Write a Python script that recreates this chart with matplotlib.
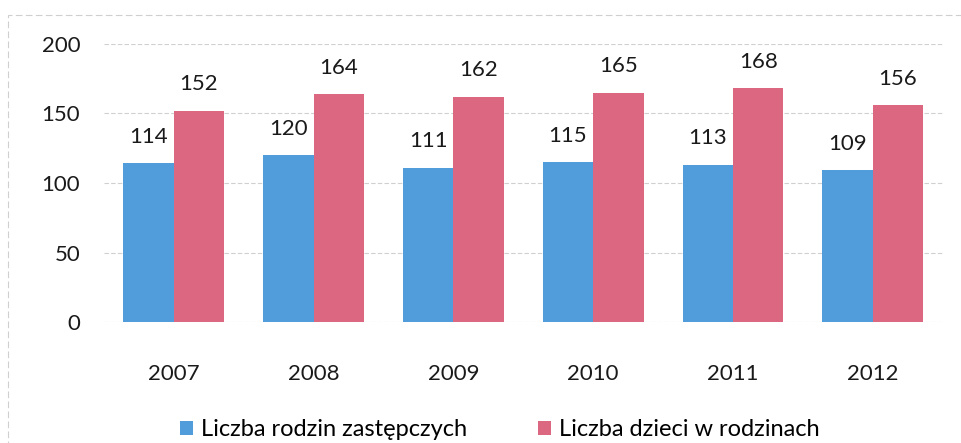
import numpy as np
import matplotlib
matplotlib.use("Agg")
import matplotlib.pyplot as plt
from matplotlib.patches import Rectangle

years = ["2007", "2008", "2009", "2010", "2011", "2012"]
rodziny = [114, 120, 111, 115, 113, 109]
dzieci = [152, 164, 162, 165, 168, 156]
label_rodziny = "Liczba rodzin zastępczych"
label_dzieci = "Liczba dzieci w rodzinach"

blue = "#519ddc"
pink = "#db6780"

plt.rcParams['font.family'] = ['Lato', 'DejaVu Sans']

fig = plt.figure(figsize=(9.61, 4.43), dpi=100)
ax = fig.add_axes([0.108, 0.273, 0.873, 0.628])

x = np.arange(len(years))
w = 0.36
b1 = ax.bar(x - w / 2, rodziny, w, color=blue, label=label_rodziny)
b2 = ax.bar(x + w / 2, dzieci, w, color=pink, label=label_dzieci)

for bars, vals in ((b1, rodziny), (b2, dzieci)):
    for bar, v in zip(bars, vals):
        ax.annotate(str(v), (bar.get_x() + bar.get_width() / 2, v),
                    xytext=(0, 19), textcoords="offset points",
                    ha="center", va="center", fontsize=16, color="#1a1a1a")

ax.set_xlim(-0.5, len(years) - 0.5)
ax.set_ylim(0, 200)
ax.set_yticks([0, 50, 100, 150, 200])
ax.set_xticks(x)
ax.set_xticklabels(years)
ax.tick_params(axis="both", length=0, labelsize=16, labelcolor="#1a1a1a")
ax.tick_params(axis="x", pad=30)
ax.tick_params(axis="y", pad=17)
ax.grid(axis="y", color="#d0d0d0", linestyle=(0, (4, 2)), linewidth=0.8)
ax.set_axisbelow(True)
for s in ax.spines.values():
    s.set_visible(False)

fig.legend(handles=[b1, b2], loc="center", bbox_to_anchor=(0.52, 0.03),
           ncol=2, frameon=False, fontsize=17, handlelength=0.55,
           handleheight=0.55, handletextpad=0.35, columnspacing=3.0)

# faint frame of the scanned chart
fig.patches.append(Rectangle((0.008, -0.1), 1.1, 1.066, transform=fig.transFigure,
                             fill=False, edgecolor="#cfcfcf", linewidth=0.8,
                             linestyle=(0, (6, 3))))

fig.savefig("out.png", dpi=100)
